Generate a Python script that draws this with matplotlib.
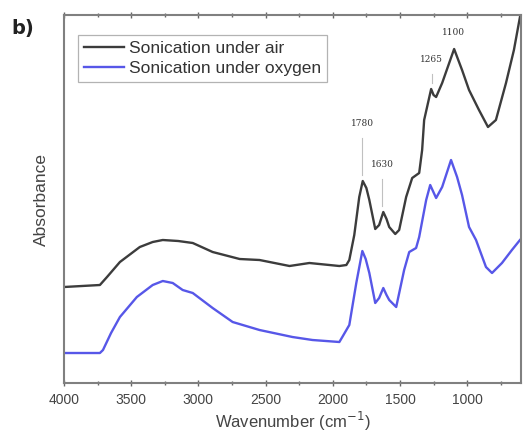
import matplotlib
matplotlib.use("Agg")
import matplotlib.pyplot as plt
from matplotlib.ticker import MultipleLocator

# wavenumbers (cm-1) and absorbance (a.u.)
wn_air = [4000, 3733, 3680, 3584, 3436, 3340, 3265, 3150, 3042, 2894, 2693, 2545, 2322,
          2174, 1951, 1899, 1877, 1840, 1803, 1777, 1750, 1728, 1684, 1655, 1624, 1600,
          1580, 1535, 1506, 1454, 1409, 1357, 1335, 1320, 1268, 1250, 1231, 1186, 1097,
          1038, 986, 912, 845, 786, 711, 652, 607]
abs_air = [0.96, 0.98, 1.06, 1.21, 1.36, 1.41, 1.43, 1.42, 1.40, 1.31, 1.24, 1.23, 1.17,
           1.20, 1.17, 1.18, 1.23, 1.48, 1.86, 2.02, 1.95, 1.83, 1.54, 1.58, 1.71, 1.64,
           1.56, 1.49, 1.53, 1.86, 2.05, 2.10, 2.33, 2.63, 2.94, 2.88, 2.86, 3.00, 3.34,
           3.13, 2.93, 2.73, 2.56, 2.63, 3.00, 3.33, 3.66]

wn_oxy = [4000, 3733, 3710, 3650, 3584, 3458, 3340, 3265, 3191, 3117, 3042, 2894, 2745,
          2545, 2300, 2151, 1951, 1929, 1877, 1825, 1780, 1755, 1728, 1684, 1655, 1624,
          1600, 1580, 1528, 1469, 1431, 1380, 1357, 1305, 1275, 1231, 1186, 1120, 1075,
          1038, 986, 934, 860, 815, 741, 667, 607]
abs_oxy = [0.30, 0.30, 0.33, 0.50, 0.66, 0.86, 0.98, 1.02, 1.00, 0.93, 0.90, 0.75, 0.61,
           0.53, 0.46, 0.43, 0.41, 0.46, 0.58, 1.00, 1.32, 1.24, 1.10, 0.80, 0.85, 0.95,
           0.88, 0.83, 0.76, 1.13, 1.31, 1.35, 1.46, 1.83, 1.98, 1.85, 1.96, 2.23, 2.06,
           1.88, 1.56, 1.43, 1.16, 1.10, 1.20, 1.33, 1.43]

# peak labels on the air curve
peaks = [1780, 1630, 1265, 1100]
peak_abs = [2.02, 1.71, 2.94, 3.34]
label_abs = [2.55, 2.14, 3.19, 3.46]

fig = plt.figure(figsize=(5.23, 4.41), dpi=100)
ax = fig.add_axes([0.1224, 0.1315, 0.8736, 0.8345])

ax.plot(wn_air, abs_air, color="#3c3c3c", lw=1.7, label="Sonication under air")
ax.plot(wn_oxy, abs_oxy, color="#5757e8", lw=1.7, label="Sonication under oxygen")

for w, pa, la in zip(peaks, peak_abs, label_abs):
    if w != 1100:
        ax.plot([w, w], [pa + 0.06, la - 0.1], color="#c0c0c0", lw=0.8)
    ax.text(w, la, str(w), ha="center", va="bottom", fontsize=6.5,
            family="DejaVu Serif", color="#333333")

ax.set_xlim(4000, 600)
ax.set_ylim(0, 3.68)
ax.xaxis.set_major_locator(MultipleLocator(500))
ax.xaxis.set_minor_locator(MultipleLocator(250))
ax.tick_params(axis="x", which="both", direction="inout", top=True, labelsize=10,
               labelcolor="#444444", color="#666666", pad=5)
ax.tick_params(axis="x", which="major", length=5, width=1)
ax.tick_params(axis="x", which="minor", length=3, width=1)
for lab in ax.get_xticklabels():
    lab.set_family("Liberation Sans")
ax.set_yticks([])
for s in ax.spines.values():
    s.set_color("#808080")
    s.set_linewidth(1.5)

ax.set_xlabel("Wavenumber (cm$^{-1}$)", fontsize=12, color="#444444", labelpad=2,
              family="Liberation Sans")
ax.set_ylabel("Absorbance", fontsize=12.5, color="#444444", labelpad=11,
              family="Liberation Sans")

leg = ax.legend(loc="upper left", bbox_to_anchor=(0.03, 0.946),
                prop={"family": "Liberation Sans", "size": 12.5},
                handlelength=2.3, frameon=True, fancybox=False, borderpad=0.35,
                labelspacing=0.25, handletextpad=0.3, borderaxespad=0)
leg.get_frame().set_edgecolor("#a0a0a0")
leg.get_frame().set_linewidth(0.9)
for t in leg.get_texts():
    t.set_color("#333333")

fig.text(0.022, 0.935, "b)", fontsize=14, fontweight="bold", color="#222222",
         va="center")

fig.savefig("out.png", dpi=100)
